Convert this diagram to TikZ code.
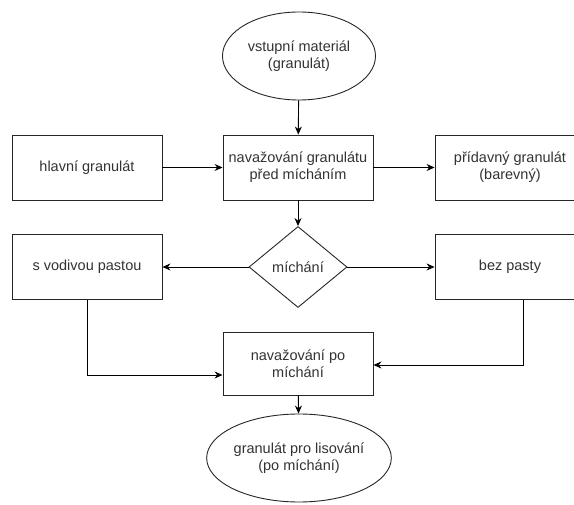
\documentclass[tikz,border=0pt]{standalone}
\usepackage{fontspec}
\setmainfont{Liberation Sans}
\usetikzlibrary{shapes.geometric,arrows.meta}

\tikzset{
  base/.style={draw=black!85, line width=0.9pt, text=black!80, align=center,
    font=\fontsize{14.5}{17}\selectfont, inner sep=0pt},
  procbox/.style={base, rectangle, minimum width=150pt, minimum height=65pt},
  terminal/.style={base, ellipse, minimum width=153pt, minimum height=88pt},
  decision/.style={base, diamond, minimum width=98pt, minimum height=81pt, aspect=1.2},
  flow/.style={draw=black, line width=0.9pt, -{Stealth[length=8pt,width=7pt]}}
}

\begin{document}
\begin{tikzpicture}[x=1pt,y=-1pt]
  \useasboundingbox[fill=white] (0,0) rectangle (574,505);

  % terminals
  \node[terminal] (vstup) at (299,56) {vstupní materiál\\(granulát)};
  \node[terminal] (lis) at (299,458) {granulát pro lisování\\(po míchání)};

  % upper row
  \node[procbox] (hlavni) at (87,167.5) {hlavní granulát};
  \node[procbox] (pred) at (298,167.5) {navažování granulátu\\před mícháním};
  \node[procbox] (pridavny) at (510,167.5) {přídavný granulát\\(barevný)};

  % mixing decision and its branches
  \node[decision] (michani) at (298,267) {míchání};
  \node[procbox] (vodiva) at (87,267) {s vodivou pastou};
  \node[procbox] (bez) at (510,267) {bez pasty};

  % weighing after mixing
  \node[procbox, minimum height=63pt] (po) at (298,363.5) {navažování po\\míchání};

  % connectors
  \draw[flow] (vstup) -- (pred);
  \draw[flow] (hlavni) -- (pred);
  \draw[flow] (pred) -- (pridavny);
  \draw[flow] (pred) -- (michani);
  \draw[flow] (michani) -- (vodiva);
  \draw[flow] (michani) -- (bez);
  \draw[flow] (vodiva.south) |- ([yshift=-11.5pt]po.west);
  \draw[flow] ([xshift=13pt]bez.south) |- ([yshift=-1.5pt]po.east);
  \draw[flow] (po) -- (lis);
\end{tikzpicture}
\end{document}
